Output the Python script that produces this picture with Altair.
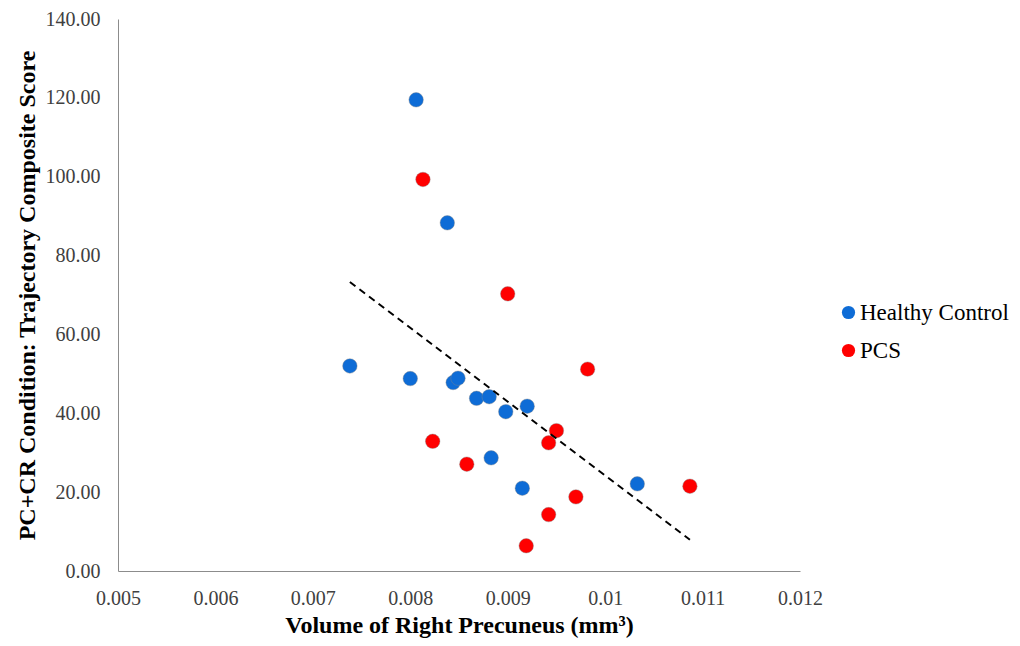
import altair as alt
import pandas as pd

# Healthy Control
hc_x = [0.00738, 0.00800, 0.00844, 0.00849, 0.00868, 0.00881, 0.00898, 0.00920,
        0.00883, 0.00915, 0.01033, 0.00806, 0.00838]
hc_y = [52.0, 48.8, 47.8, 48.9, 43.8, 44.2, 40.4, 41.8, 28.7, 21.0, 22.1, 119.5, 88.3]

# PCS
pcs_x = [0.00813, 0.00900, 0.00982, 0.00950, 0.00942, 0.00823, 0.00858, 0.00970,
         0.00942, 0.00919, 0.01087]
pcs_y = [99.3, 70.3, 51.2, 35.6, 32.5, 32.9, 27.1, 18.8, 14.3, 6.4, 21.5]

groups = ["Healthy Control", "PCS"]
colors = ["#0E6CD6", "#FF0000"]
x_ticks = [0.005, 0.006, 0.007, 0.008, 0.009, 0.01, 0.011, 0.012]
y_ticks = [0, 20, 40, 60, 80, 100, 120, 140]

df = pd.DataFrame({
    "x": hc_x + pcs_x,
    "y": hc_y + pcs_y,
    "group": [groups[0]] * len(hc_x) + [groups[1]] * len(pcs_x),
})

FONT = "Liberation Serif"

x_enc = alt.X(
    "x:Q",
    scale=alt.Scale(domain=[0.005, 0.012], nice=False, zero=False),
    axis=alt.Axis(
        title="Volume of Right Precuneus (mm³)",
        values=x_ticks, format="~g", grid=False, ticks=False,
        labelFlush=False, labelPadding=17, titlePadding=5,
    ),
)
y_enc = alt.Y(
    "y:Q",
    scale=alt.Scale(domain=[0, 140], nice=False),
    axis=alt.Axis(
        title="PC+CR Condition: Trajectory Composite Score",
        values=y_ticks, format=".2f", grid=False, ticks=False,
        labelFlush=False, labelPadding=18, titlePadding=6,
    ),
)

points = alt.Chart(df).mark_point(
    filled=True, size=210, opacity=1, stroke="#888888", strokeWidth=0.8, strokeOpacity=0.5
).encode(
    x=x_enc,
    y=y_enc,
    color=alt.Color(
        "group:N",
        scale=alt.Scale(domain=groups, range=colors),
        legend=alt.Legend(
            title=None, orient="none", legendX=719, legendY=282,
            symbolType="circle", symbolSize=175, symbolStrokeWidth=0,
            labelFont=FONT, labelFontSize=23, labelColor="#000000",
            labelOffset=0, rowPadding=14, padding=0,
        ),
    ),
)

trend = alt.Chart(df).transform_regression("x", "y").mark_line(
    color="#000000", strokeWidth=2, strokeDash=[7, 5]
).encode(x="x:Q", y="y:Q")

chart = alt.layer(points, trend).properties(
    width=682,
    height=552,
    padding={"left": 110, "top": 11, "right": 212, "bottom": 67},
    autosize=alt.AutoSizeParams(type="none"),
).configure_view(
    stroke=None
).configure_axis(
    domainColor="#8C8C8C",
    domainWidth=1,
    labelFont=FONT,
    labelFontSize=20,
    labelColor="#404040",
    titleFont=FONT,
    titleFontSize=24,
    titleFontWeight="bold",
    titleColor="#000000",
)

chart.save("out.html", embed_options={"renderer": "svg", "actions": False})
